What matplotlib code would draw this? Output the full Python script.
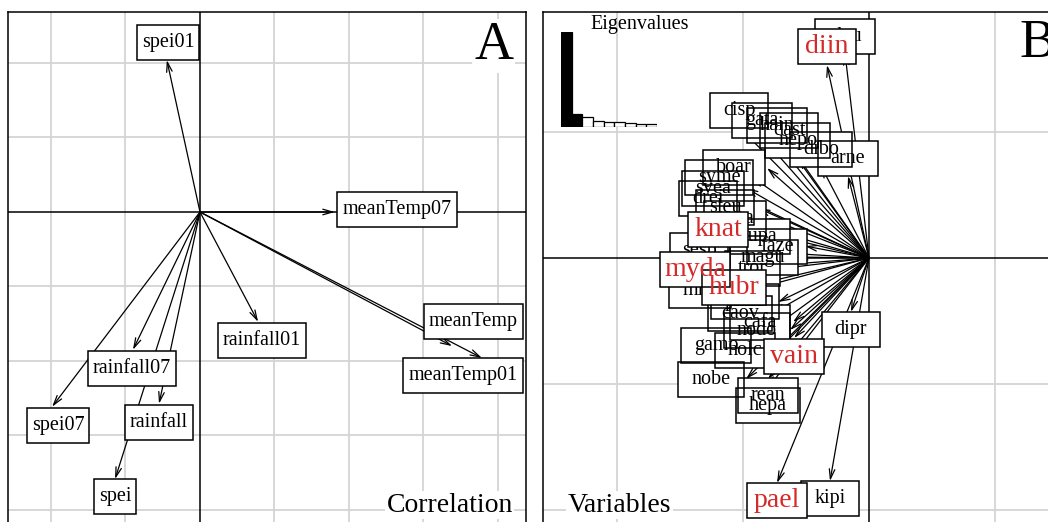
import matplotlib
matplotlib.use("Agg")
import matplotlib.pyplot as plt
from matplotlib.patches import Rectangle
import numpy as np

plt.rcParams['font.family'] = ['Liberation Serif', 'DejaVu Serif']

# Panel A: environmental variables (correlation loadings)
env_names = ["spei01", "meanTemp07", "meanTemp", "meanTemp01", "rainfall01",
             "rainfall07", "rainfall", "spei07", "spei"]
env_x = [-0.089, 0.362, 0.677, 0.757, 0.156, -0.180, -0.110, -0.397, -0.228]
env_y = [0.408, 0.000, -0.360, -0.392, -0.295, -0.370, -0.515, -0.523, -0.717]
env_lab_x = [-0.086, 0.529, 0.733, 0.706, 0.166, -0.183, -0.110, -0.381, -0.228]
env_lab_y = [0.456, 0.008, -0.293, -0.440, -0.344, -0.419, -0.564, -0.572, -0.765]

# Panel B: species loadings
sp_names = ["plau", "diin", "cisp", "gata", "hain", "dast", "nepo", "dibo", "arne",
            "boar", "syme", "svea", "drei", "sleu", "vaca", "lupa", "knat",
            "sesp", "faze", "magu", "tror", "myda", "mial", "hubr", "pimo", "caov",
            "cafa", "nodo", "gamo", "holc", "vain", "dipr", "nobe", "rean", "hepa",
            "pael", "kipi"]
sp_x = [-0.0381, -0.0667, -0.2063, -0.1698, -0.1460, -0.1270, -0.1127, -0.0762, -0.0333,
        -0.1619, -0.1857, -0.1952, -0.2048, -0.1762, -0.1603, -0.1206, -0.1889,
        -0.2159, -0.1016, -0.1159, -0.1333, -0.2206, -0.2159, -0.1698, -0.1444, -0.1524,
        -0.1206, -0.1254, -0.1889, -0.1444, -0.1190, -0.0286, -0.1952, -0.1603, -0.1603,
        -0.1460, -0.0619]
sp_y = [0.3254, 0.3063, 0.2079, 0.1921, 0.1841, 0.1762, 0.1603, 0.1460, 0.1302,
        0.1429, 0.1286, 0.1111, 0.0952, 0.0794, 0.0635, 0.0349, 0.0460,
        0.0127, 0.0190, 0.0016, -0.0159, -0.0175, -0.0508, -0.0460, -0.0698, -0.0873,
        -0.1016, -0.1143, -0.1381, -0.1460, -0.1270, -0.0857, -0.1921, -0.1921, -0.2063,
        -0.3571, -0.3540]
sp_lab_x = [-0.0381, -0.0667, -0.2063, -0.1698, -0.1460, -0.1270, -0.1127, -0.0762, -0.0333,
            -0.2143, -0.2381, -0.2476, -0.2556, -0.2286, -0.2127, -0.1730, -0.2397,
            -0.2683, -0.1460, -0.1683, -0.1857, -0.2762, -0.2683, -0.2143, -0.1968, -0.2048,
            -0.1730, -0.1778, -0.2429, -0.1968, -0.1190, -0.0286, -0.2508, -0.1603, -0.1603,
            -0.1460, -0.0619]
sp_lab_y = [0.3524, 0.3365, 0.2349, 0.2190, 0.2111, 0.2032, 0.1873, 0.1730, 0.1587,
            0.1429, 0.1286, 0.1111, 0.0952, 0.0794, 0.0635, 0.0349, 0.0460,
            0.0127, 0.0190, 0.0016, -0.0159, -0.0175, -0.0508, -0.0460, -0.0698, -0.0873,
            -0.1016, -0.1143, -0.1381, -0.1460, -0.1556, -0.1127, -0.1921, -0.2190, -0.2333,
            -0.3841, -0.3810]
sp_red = ["diin", "knat", "myda", "hubr", "vain", "pael"]

eigenvalues = [9.5, 1.3, 1.0, 0.62, 0.52, 0.48, 0.40, 0.33, 0.30]
n_axes_kept = 2

RED = "#d42a2a"
GRID = "#d4d4d4"
BOX_H = 35  # pixels


def setup_panel(ax, xlim, ylim, d):
    ax.set_xlim(xlim)
    ax.set_ylim(ylim)
    for v in np.arange(np.ceil(xlim[0] / d), np.floor(xlim[1] / d) + 1) * d:
        if abs(v) > 1e-9:
            ax.axvline(v, color=GRID, lw=1.3, zorder=0)
    for v in np.arange(np.ceil(ylim[0] / d), np.floor(ylim[1] / d) + 1) * d:
        if abs(v) > 1e-9:
            ax.axhline(v, color=GRID, lw=1.3, zorder=0)
    ax.axvline(0, color="black", lw=1.1, zorder=1)
    ax.axhline(0, color="black", lw=1.1, zorder=1)
    ax.set_xticks([])
    ax.set_yticks([])
    for s in ax.spines.values():
        s.set_linewidth(1.1)
        s.set_zorder(10)


def draw_arrows(ax, names, xs, ys, lxs, lys, padx, red=()):
    for x, y in zip(xs, ys):
        ax.annotate("", xy=(x, y), xytext=(0, 0),
                    arrowprops=dict(arrowstyle="->,head_length=0.7,head_width=0.2",
                                    lw=0.9, color="black", shrinkA=0, shrinkB=0),
                    zorder=2)
    texts = [ax.text(lx, ly, n, ha="center", va="center", fontsize=14.5, zorder=5)
             for n, lx, ly in zip(names, lxs, lys)]
    fig = ax.figure
    fig.canvas.draw()
    r = fig.canvas.get_renderer()
    inv = ax.transData.inverted()
    for t, n, lx, ly in zip(texts, names, lxs, lys):
        w = t.get_window_extent(renderer=r).width + padx
        cx, cy = ax.transData.transform((lx, ly))
        x0, y0 = inv.transform((cx - w / 2, cy - BOX_H / 2))
        x1, y1 = inv.transform((cx + w / 2, cy + BOX_H / 2))
        z = 8 if n in red else 3
        ax.add_patch(Rectangle((x0, y0), x1 - x0, y1 - y0, facecolor="white",
                               edgecolor="none", zorder=z))
        ax.add_patch(Rectangle((x0, y0), x1 - x0, y1 - y0, fill=False,
                               edgecolor="black", lw=1.1, zorder=z + 1))
        if n in red:
            t.set_fontsize(20)
            t.set_color(RED)
            t.set_zorder(z + 2)


fig = plt.figure(figsize=(10.48, 5.22), dpi=100)
W, H = 1048.0, 522.0

# panel A
axA = fig.add_axes([8 / W, (H - 530) / H, 518 / W, 518 / H])
setup_panel(axA, (-0.5154, 0.8752), (-0.8537, 0.5369), 0.2)
draw_arrows(axA, env_names, env_x, env_y, env_lab_x, env_lab_y, padx=10)
axA.text(0.975, 0.909, "A", transform=axA.transAxes, ha="right", va="baseline",
         fontsize=39, zorder=12, bbox=dict(facecolor="white", edgecolor="none", pad=1))
axA.text(0.975, 0.035, "Correlation", transform=axA.transAxes, ha="right",
         va="baseline", fontsize=20, zorder=12,
         bbox=dict(facecolor="white", edgecolor="none", pad=1))

# panel B
axB = fig.add_axes([543 / W, (H - 530) / H, 518 / W, 518 / H])
setup_panel(axB, (-0.5175, 0.3048), (-0.4317, 0.3905), 0.2)
draw_arrows(axB, sp_names, sp_x, sp_y, sp_lab_x, sp_lab_y, padx=26, red=sp_red)
axB.text(0.99, 0.913, "B", transform=axB.transAxes, ha="right", va="baseline",
         fontsize=39, zorder=12, bbox=dict(facecolor="white", edgecolor="none", pad=1))
axB.text(0.048, 0.035, "Variables", transform=axB.transAxes, ha="left",
         va="baseline", fontsize=20, zorder=12,
         bbox=dict(facecolor="white", edgecolor="none", pad=1))

# eigenvalues inset
axE = fig.add_axes([561 / W, (H - 127) / H, 96 / W, 95 / H])
cols = ["black" if i < n_axes_kept else "white" for i in range(len(eigenvalues))]
axE.bar(np.arange(len(eigenvalues)), eigenvalues, width=1.0, color=cols,
        edgecolor="black", lw=0.9)
axE.set_xlim(-0.5, len(eigenvalues) - 0.5)
axE.set_ylim(0, max(eigenvalues))
axE.axis("off")
fig.text(640 / W, (H - 24) / H, "Eigenvalues", ha="center", va="center", fontsize=14.5)

fig.savefig("out.png", dpi=100)
